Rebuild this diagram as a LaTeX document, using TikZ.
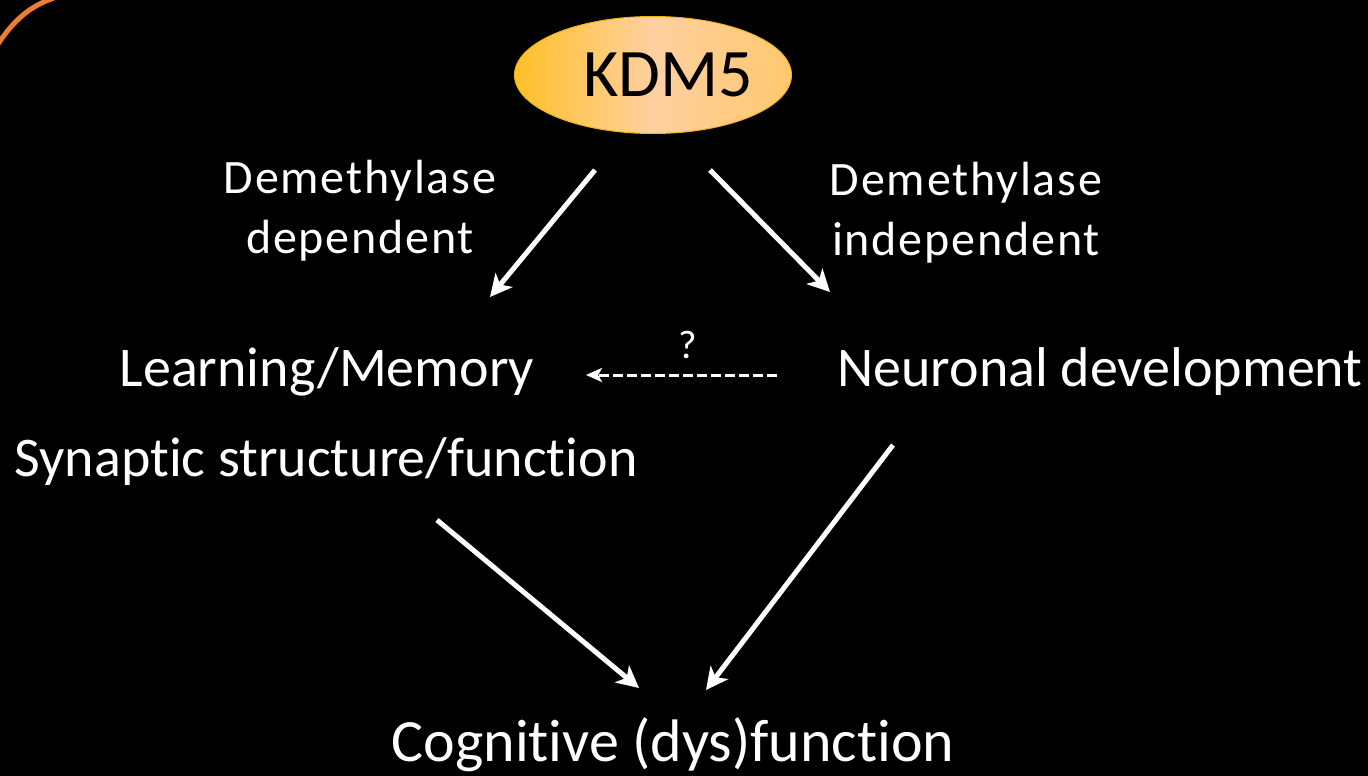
\documentclass[tikz,border=0pt]{standalone}
\usepackage{fontspec}
\setmainfont{Carlito}[Ligatures=NoCommon]
\newfontfamily\spacedfont{Carlito}[Ligatures=NoCommon,LetterSpace=3.8]
\usetikzlibrary{arrows.meta,shapes.geometric}
\definecolor{arcorange}{RGB}{237,125,49}
\definecolor{ellL}{RGB}{255,192,40}
\definecolor{ellM}{RGB}{255,208,160}
\definecolor{ellR}{RGB}{255,200,110}
\definecolor{ellB}{RGB}{240,180,20}
\tikzset{
  lbl/.style={text=white,inner sep=0pt,align=center,font=\fontsize{56}{60}\selectfont},
  small/.style={text=white,inner sep=0pt,align=center,font=\spacedfont\fontsize{48}{60}\selectfont},
  arr/.style={draw=white,line width=5pt,-{Stealth[length=22pt,width=22pt,inset=6pt]}},
  darr/.style={draw=white,line width=3pt,dash pattern=on 10pt off 4pt,-{Stealth[length=16pt,width=14pt,inset=4pt]}}
}
\begin{document}
\begin{tikzpicture}[x=1pt,y=-1pt]
\fill[black] (0,0) rectangle (1368,776);
\useasboundingbox (0,0) rectangle (1368,776);
\draw[arcorange,line width=5pt] (-2,44) .. controls (14,20) and (30,6) .. (54,-2);
\node[ellipse,minimum width=277pt,minimum height=117pt,draw=ellB,line width=1pt,
  left color=ellL,right color=ellR,middle color=ellM] (kdm) at (653,75) {};
\node[inner sep=0pt,text=black,font=\fontsize{68}{72}\selectfont] (kdmt) at (668,75) {KDM5};
\node[small] (dd) at (360,211) {Demethylase\\dependent};
\node[small] (di) at (966,213) {Demethylase\\independent};
\node[lbl] (lm) at (327,372) {Learning/Memory};
\node[lbl] (ss) at (326,462) {Synaptic structure/function};
\node[lbl] (nd) at (1100,372) {Neuronal development};
\node[lbl,font=\fontsize{60}{64}\selectfont] (cf) at (673,745) {Cognitive (dys)function};
\node[text=white,inner sep=0pt,font=\fontsize{40}{44}\selectfont] (q) at (688,345) {?};
\coordinate (a1s) at (595,170); \coordinate (a1e) at (490,297);
\coordinate (a2s) at (710,170); \coordinate (a2e) at (830,292);
\coordinate (a3s) at (437,520); \coordinate (a3e) at (639,688);
\coordinate (a4s) at (893,445); \coordinate (a4e) at (706,690);
\coordinate (ds) at (777,375); \coordinate (de) at (586,375);
\draw[arr] (a1s) -- (a1e);
\draw[arr] (a2s) -- (a2e);
\draw[arr] (a3s) -- (a3e);
\draw[arr] (a4s) -- (a4e);
\draw[darr] (ds) -- (de);
\end{tikzpicture}
\end{document}
